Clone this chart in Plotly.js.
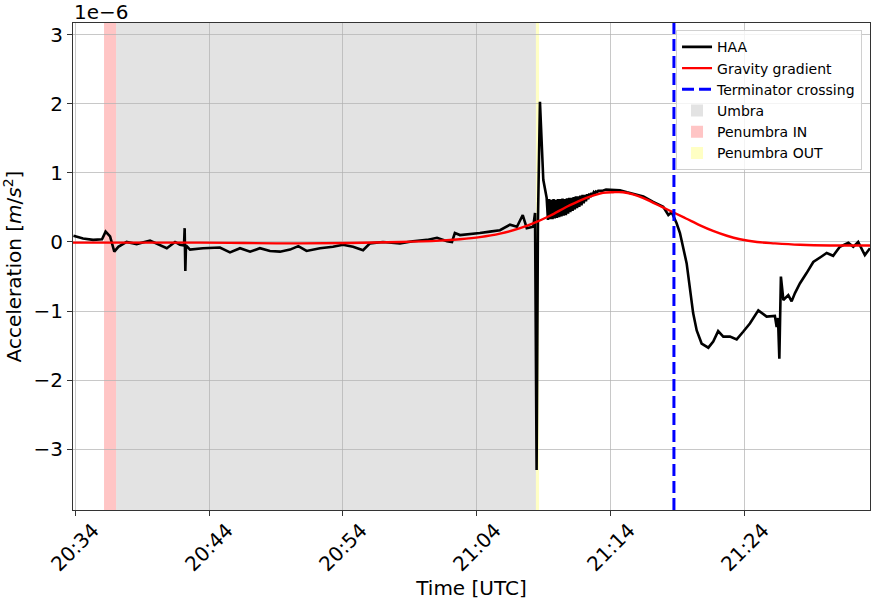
<!DOCTYPE html>
<html>
<head>
<meta charset="utf-8">
<script src="https://cdn.plot.ly/plotly-3.0.1.min.js"></script>
<style>
  html, body { margin: 0; padding: 0; background: #fff; }
  #plot { width: 880px; height: 606px; }
</style>
</head>
<body>
<div id="plot"></div>
<script>
// day is not shown on the chart, only the clock time
const day = "2024-04-08 ";

// HAA acceleration, values in units of 1e-6 m/s^2
const haaTime = [
  "20:33:53", "20:34:36", "20:35:21", "20:36:01", "20:36:17", "20:36:37", "20:36:56", "20:37:14",
  "20:37:51", "20:38:36", "20:39:36", "20:40:21", "20:40:51", "20:41:28", "20:41:50", "20:42:08",
  "20:42:11", "20:42:14", "20:42:17", "20:42:35", "20:43:33", "20:44:49", "20:45:34", "20:46:19",
  "20:47:04", "20:47:48", "20:48:33", "20:49:18", "20:50:03", "20:50:40", "20:51:17", "20:52:17",
  "20:53:15", "20:54:00", "20:54:45", "20:55:30", "20:56:01", "20:56:59", "20:58:15", "20:59:13",
  "21:00:16", "21:01:01", "21:01:46", "21:02:08", "21:02:21", "21:02:44", "21:03:29", "21:04:13",
  "21:04:58", "21:05:43", "21:06:28", "21:06:59", "21:07:25", "21:07:43", "21:08:12", "21:08:20",
  "21:08:27", "21:08:33", "21:08:42", "21:08:50", "21:08:57", "21:09:12",
  "21:09:18", "21:09:23", "21:09:28", "21:09:33", "21:09:38", "21:09:43", "21:09:48", "21:09:53",
  "21:09:58", "21:10:03", "21:10:08", "21:10:13", "21:10:18", "21:10:23", "21:10:28", "21:10:33",
  "21:10:38", "21:10:43", "21:10:48", "21:10:53", "21:10:58", "21:11:03", "21:11:08", "21:11:13",
  "21:11:18", "21:11:23", "21:11:28", "21:11:33", "21:11:38", "21:11:43", "21:11:48", "21:11:53",
  "21:11:58", "21:12:03", "21:12:08", "21:12:13", "21:12:18", "21:12:23", "21:12:28", "21:12:33",
  "21:12:38", "21:12:43", "21:12:48", "21:12:53", "21:12:58", "21:13:03",
  "21:13:20", "21:13:38", "21:13:56", "21:14:18", "21:14:40", "21:15:12", "21:15:40", "21:16:25",
  "21:17:09", "21:17:54", "21:18:17", "21:18:32", "21:18:54", "21:19:09", "21:19:39", "21:19:54",
  "21:20:08", "21:20:24", "21:20:46", "21:21:16", "21:21:38", "21:22:00", "21:22:23", "21:22:53",
  "21:23:23", "21:23:52", "21:24:22", "21:25:00", "21:25:37", "21:26:14", "21:26:22", "21:26:28",
  "21:26:34", "21:26:41", "21:26:52", "21:27:14", "21:27:29", "21:27:44", "21:28:06", "21:28:36",
  "21:29:06", "21:29:43", "21:30:06", "21:30:35", "21:31:05", "21:31:43", "21:32:05", "21:32:27",
  "21:32:57", "21:33:20",
];
const haaValue = [
  0.09, 0.05, 0.03, 0.04, 0.15, 0.08, -0.14, -0.07,
  0.0, -0.03, 0.02, -0.04, -0.09, 0.0, -0.04, -0.05,
  0.2, -0.42, -0.05, -0.11, -0.09, -0.08, -0.15, -0.09,
  -0.14, -0.09, -0.13, -0.14, -0.11, -0.06, -0.13, -0.09,
  -0.07, -0.04, -0.07, -0.12, -0.02, 0.0, -0.02, 0.01,
  0.03, 0.06, 0.01, 0.0, 0.13, 0.1, 0.11, 0.13,
  0.15, 0.17, 0.25, 0.22, 0.39, 0.2, 0.22, 0.42,
  -3.3, 0.3, 2.03, 1.38, 0.9, 0.64,
  // noisy band after the umbra exit
  0.32, 0.62, 0.33, 0.61, 0.33, 0.62, 0.34, 0.61,
  0.35, 0.62, 0.36, 0.62, 0.37, 0.63, 0.38, 0.62,
  0.39, 0.63, 0.41, 0.64, 0.43, 0.64, 0.45, 0.65,
  0.47, 0.66, 0.49, 0.66, 0.51, 0.67, 0.53, 0.68,
  0.56, 0.68, 0.59, 0.69, 0.62, 0.7, 0.65, 0.71,
  0.68, 0.72, 0.7, 0.73, 0.72, 0.74,
  0.74, 0.76, 0.76, 0.75, 0.75, 0.72, 0.7, 0.66,
  0.58, 0.51, 0.39, 0.43, 0.27, 0.13, -0.31, -0.65,
  -1.03, -1.28, -1.47, -1.53, -1.44, -1.29, -1.37, -1.37,
  -1.41, -1.3, -1.18, -0.99, -1.08, -1.07, -1.23, -1.1,
  -1.69, -0.5, -0.84, -0.77, -0.86, -0.74, -0.6, -0.45,
  -0.29, -0.21, -0.16, -0.2, -0.07, -0.01, -0.07, 0.0,
  -0.19, -0.09,
];

// gravity gradient model
const ggTime = [
  "20:33:51", "20:43:20", "20:50:47", "20:58:15", "21:01:14", "21:02:44", "21:04:13", "21:05:43",
  "21:07:13", "21:08:11", "21:09:27", "21:10:42", "21:11:41", "21:12:39", "21:13:24", "21:14:09",
  "21:14:54", "21:15:39", "21:16:23", "21:17:08", "21:17:53", "21:18:38", "21:19:36", "21:20:39",
  "21:21:37", "21:22:39", "21:23:38", "21:24:54", "21:26:14", "21:28:06", "21:30:21", "21:33:20",
];
const ggValue = [
  -0.01, -0.01, -0.02, 0.0, 0.02, 0.04, 0.07, 0.12,
  0.2, 0.27, 0.38, 0.51, 0.6, 0.67, 0.71, 0.72,
  0.72, 0.69, 0.64, 0.57, 0.5, 0.43, 0.34, 0.24,
  0.16, 0.09, 0.04, 0.0, -0.02, -0.04, -0.05, -0.05,
];

const terminatorTime = "21:18:42";
const penumbraIn = ["20:36:10", "20:37:04"];
const umbra = ["20:37:04", "21:08:24"];
const penumbraOut = ["21:08:24", "21:08:38"];

const xRange = ["20:33:51", "21:33:20"];
const yRange = [-3.88, 3.17];
const xTicks = ["20:34", "20:44", "20:54", "21:04", "21:14", "21:24"];
const yTicks = [-3, -2, -1, 0, 1, 2, 3];

const font = "DejaVu Sans, sans-serif";

var data = [
  {
    name: "HAA",
    x: haaTime.map((t) => day + t),
    y: haaValue,
    mode: "lines",
    line: { color: "black", width: 2.6 },
    legendrank: 1,
  },
  {
    name: "Gravity gradient",
    x: ggTime.map((t) => day + t),
    y: ggValue,
    mode: "lines",
    line: { color: "red", width: 2.4, shape: "spline" },
    legendrank: 2,
  },
];

var span = (range, color, name, rank) => {
  return {
    type: "rect",
    xref: "x",
    yref: "paper",
    x0: day + range[0],
    x1: day + range[1],
    y0: 0,
    y1: 1,
    fillcolor: color,
    line: { width: 0 },
    layer: "below",
    showlegend: true,
    name: name,
    legendrank: rank,
  };
};

var shapes = [
  span(umbra, "rgb(227,227,227)", "Umbra", 4),
  span(penumbraIn, "rgb(255,197,197)", "Penumbra IN", 5),
  span(penumbraOut, "rgb(255,255,196)", "Penumbra OUT", 6),
  {
    type: "line",
    xref: "x",
    yref: "paper",
    x0: day + terminatorTime,
    x1: day + terminatorTime,
    y0: 0,
    y1: 1,
    line: { color: "blue", width: 3, dash: "12px,5px" },
    layer: "above",
    showlegend: true,
    name: "Terminator crossing",
    legendrank: 3,
  },
];

// rotated tick labels centred on the ticks, like the original
var annotations = xTicks.map((t) => {
  return {
    x: day + t + ":00",
    xref: "x",
    y: -0.076,
    yref: "paper",
    text: t,
    textangle: -45,
    showarrow: false,
    xanchor: "center",
    yanchor: "middle",
    font: { family: font, size: 20, color: "black" },
  };
});
annotations.push({
  x: 0,
  xref: "paper",
  y: 1,
  yref: "paper",
  xanchor: "left",
  yanchor: "top",
  yshift: 24,
  borderpad: 0,
  text: "1e\u22126",
  showarrow: false,
  font: { family: font, size: 20, color: "black" },
});

var layout = {
  width: 880,
  height: 606,
  margin: { l: 73, r: 10, t: 23, b: 96 },
  paper_bgcolor: "white",
  plot_bgcolor: "white",
  font: { family: font, size: 20, color: "black" },
  showlegend: true,
  legend: {
    x: 0.99,
    xanchor: "right",
    y: 0.985,
    yanchor: "top",
    bgcolor: "rgba(255,255,255,0.8)",
    bordercolor: "#d0d0d0",
    borderwidth: 1,
    font: { family: font, size: 14, color: "black" },
    tracegroupgap: 0,
  },
  xaxis: {
    type: "date",
    range: xRange.map((t) => day + t),
    tickvals: xTicks.map((t) => day + t + ":00"),
    showticklabels: false,
    ticks: "outside",
    ticklen: 5,
    tickcolor: "#333",
    showgrid: true,
    gridcolor: "rgba(176,176,176,0.7)",
    showline: true,
    linecolor: "#333",
    linewidth: 1,
    mirror: true,
    zeroline: false,
    title: { text: "Time [UTC]", standoff: 65, font: { family: font, size: 20 } },
  },
  yaxis: {
    range: yRange,
    tickvals: yTicks,
    ticks: "outside",
    ticklen: 5,
    tickcolor: "#333",
    tickfont: { family: font, size: 20 },
    showgrid: true,
    gridcolor: "rgba(176,176,176,0.7)",
    showline: true,
    linecolor: "#333",
    linewidth: 1,
    mirror: true,
    zeroline: false,
    title: {
      text: "Acceleration [<i>m</i>/<i>s</i><sup>2</sup>]",
      standoff: 8,
      font: { family: font, size: 20 },
    },
  },
  shapes: shapes,
  annotations: annotations,
};

Plotly.newPlot("plot", data, layout, { displayModeBar: false, staticPlot: true });
</script>
</body>
</html>
